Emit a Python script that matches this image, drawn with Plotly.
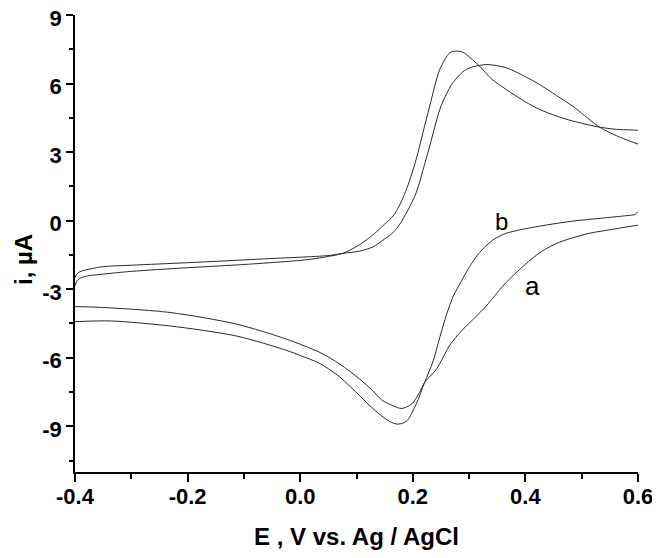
import plotly.graph_objects as go

# ---- data ----
E_b_fwd = [-0.400, -0.397, -0.391, -0.380, -0.350, -0.300, -0.200, -0.100, -0.054, 0.000, 0.035, 0.076,
           0.090, 0.106, 0.120, 0.135, 0.150, 0.165, 0.177, 0.190, 0.206, 0.218, 0.230, 0.248, 0.266, 0.277, 0.288, 0.295,
           0.3186, 0.340, 0.366, 0.400, 0.425, 0.455, 0.484, 0.528, 0.560, 0.5965, 0.600]
I_b_fwd = [-2.86, -2.65, -2.52, -2.43, -2.34, -2.22, -2.06, -1.92, -1.84, -1.74, -1.63, -1.43,
           -1.27, -1.04, -0.80, -0.50, -0.15, 0.20, 0.70, 1.45, 2.68, 3.85, 5.01, 6.62, 7.35, 7.42, 7.38, 7.27,
           6.76, 6.20, 5.74, 5.20, 4.87, 4.58, 4.36, 4.11, 4.00, 3.96, 3.95]

E_b_rev = [0.600, 0.595, 0.580, 0.540, 0.484, 0.440, 0.395, 0.365, 0.345, 0.330, 0.315, 0.300,
           0.285, 0.272, 0.260, 0.248, 0.236, 0.221, 0.206, 0.190, 0.180, 0.171, 0.160, 0.145,
           0.129, 0.106, 0.0705, 0.035, 0.000, -0.024, -0.113, -0.231, -0.337, -0.400]
I_b_rev = [0.40, 0.27, 0.22, 0.12, -0.02, -0.18, -0.38, -0.56, -0.80, -1.10, -1.50, -2.05,
           -2.70, -3.30, -4.10, -5.10, -6.15, -7.08, -8.03, -8.75, -8.88, -8.90, -8.80, -8.55,
           -8.22, -7.67, -6.85, -6.25, -5.90, -5.68, -5.05, -4.61, -4.39, -4.42]

E_a_fwd = [-0.400, -0.397, -0.391, -0.370, -0.349, -0.300, -0.200, -0.100, -0.054, 0.000, 0.0527, 0.076,
           0.106, 0.129, 0.150, 0.165, 0.177, 0.190, 0.206, 0.218, 0.230, 0.248, 0.260, 0.271, 0.295,
           0.330, 0.366, 0.400, 0.425, 0.455, 0.484, 0.505, 0.528, 0.550, 0.575, 0.600]
I_a_fwd = [-2.50, -2.35, -2.23, -2.10, -2.01, -1.95, -1.84, -1.72, -1.66, -1.60, -1.52, -1.43,
           -1.33, -1.15, -0.80, -0.52, -0.15, 0.40, 1.22, 2.20, 3.26, 4.87, 5.55, 6.03, 6.62,
           6.83, 6.69, 6.30, 5.96, 5.48, 5.01, 4.60, 4.15, 3.85, 3.58, 3.35]

E_a_rev = [0.600, 0.5965, 0.555, 0.514, 0.480, 0.455, 0.430, 0.410, 0.390, 0.370, 0.350, 0.330,
           0.310, 0.295, 0.280, 0.265, 0.242, 0.221, 0.212, 0.198, 0.180, 0.165, 0.145, 0.129,
           0.106, 0.0705, 0.035, -0.024, -0.113, -0.231, -0.350, -0.400]
I_a_rev = [-0.20, -0.21, -0.38, -0.55, -0.78, -1.00, -1.33, -1.70, -2.13, -2.60, -3.15, -3.75,
           -4.25, -4.61, -5.00, -5.48, -6.50, -7.08, -7.52, -8.03, -8.22, -8.10, -7.85, -7.45,
           -6.94, -6.28, -5.77, -5.19, -4.53, -4.02, -3.80, -3.76]

curve_labels = ["a", "b"]
label_E = [0.412, 0.357]
label_I = [-2.85, -0.05]

x_tickvals = [-0.4, -0.2, 0.0, 0.2, 0.4, 0.6]
x_ticktext = ["-0.4", "-0.2", "0.0", "0.2", "0.4", "0.6"]
y_tickvals = [-9, -6, -3, 0, 3, 6, 9]
y_ticktext = ["-9", "-6", "-3", "0", "3", "6", "9"]

FONT = "Liberation Sans, Arial, sans-serif"
LINE = dict(color="#2a2a2a", width=1)

fig = go.Figure()
for ef, i_f, er, ir, name in [(E_a_fwd, I_a_fwd, E_a_rev, I_a_rev, "a"),
                              (E_b_fwd, I_b_fwd, E_b_rev, I_b_rev, "b")]:
    fig.add_trace(go.Scatter(x=ef + [None] + er, y=i_f + [None] + ir, mode="lines",
                             line=dict(shape="spline", smoothing=0.8, **LINE),
                             name=name, showlegend=False, connectgaps=False))

for lab, ex, iy, sz in zip(curve_labels, label_E, label_I, [26, 24]):
    fig.add_annotation(x=ex, y=iy, text=lab, showarrow=False, xanchor="center", yanchor="middle",
                       font=dict(family=FONT, size=sz, color="black"))

fig.add_annotation(xref="paper", yref="paper", x=0.5, y=-0.142, text="E , V vs. Ag / AgCl",
                   xanchor="center", yanchor="middle", showarrow=False,
                   font=dict(family=FONT, size=24, color="black", weight="bold"))
fig.add_annotation(xref="paper", yref="paper", x=-0.0905, y=0.464, text="i, µA", textangle=-90,
                   xanchor="center", yanchor="middle", showarrow=False,
                   font=dict(family=FONT, size=24, color="black", weight="bold"))

axis_common = dict(showgrid=False, zeroline=False, showline=True, linecolor="black", linewidth=1.5,
                   ticks="outside", tickcolor="black", tickwidth=1.5, automargin=False,
                   ticklabeloverflow="allow",
                   tickfont=dict(family=FONT, size=22, color="black", weight="bold"))

fig.update_xaxes(range=[-0.4, 0.6], tickvals=x_tickvals, ticktext=x_ticktext, ticklen=8,
                 ticklabelstandoff=-4,
                 minor=dict(dtick=0.1, tick0=0, ticklen=5, ticks="outside", tickcolor="black", tickwidth=1.5),
                 **axis_common)
fig.update_yaxes(range=[-11, 9], tickvals=y_tickvals, ticktext=y_ticktext, ticklen=7,
                 ticklabelshift=3,
                 minor=dict(dtick=1.5, tick0=0, ticklen=4, ticks="outside", tickcolor="black", tickwidth=1.5),
                 **axis_common)

# the page places the figure 8 px in from the top-left corner, so the figure is a bit smaller
fig.update_layout(width=652, height=550, margin=dict(l=67, r=21.5, t=7, b=85.7),
                  plot_bgcolor="white", paper_bgcolor="white", font=dict(family=FONT))

fig.write_html("out.html")
